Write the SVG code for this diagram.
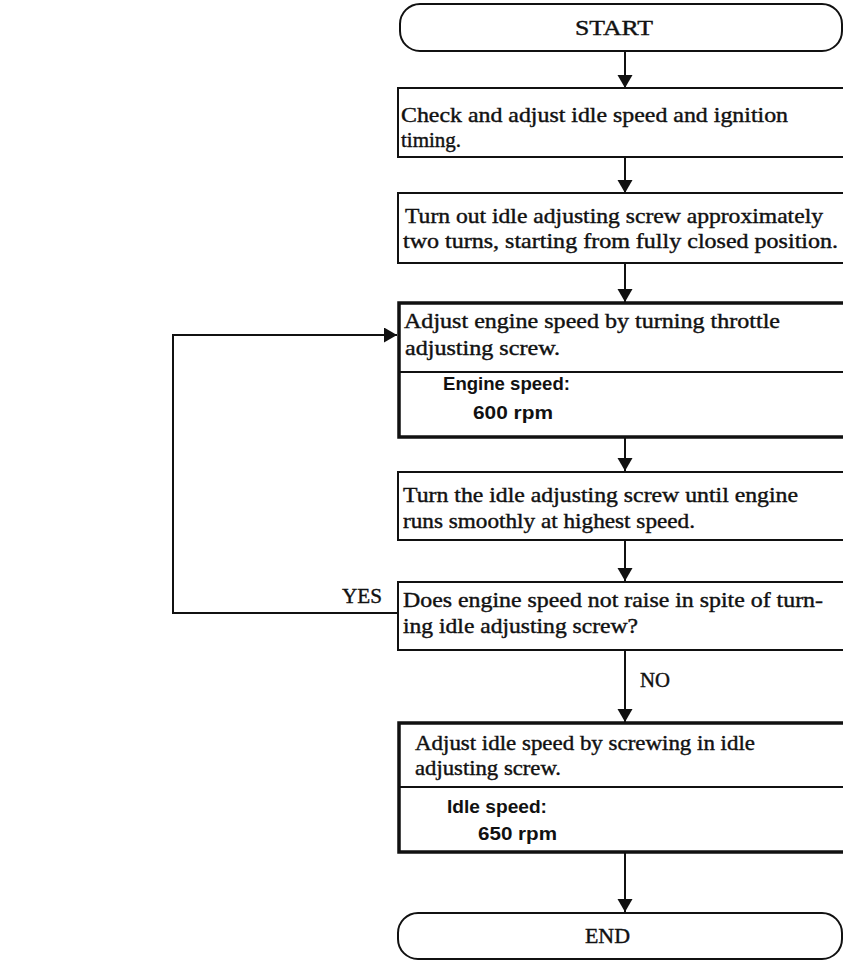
<svg xmlns="http://www.w3.org/2000/svg" width="843" height="961" viewBox="0 0 843 961">
<defs>
<style>
.t{font-family:"Liberation Serif","Times New Roman",serif;font-size:21px;fill:#111;stroke:#111;stroke-width:0.4}
.s{font-family:"Liberation Sans",Arial,sans-serif;font-size:18px;font-weight:bold;fill:#111}
.box{fill:#fff;stroke:#111;stroke-width:2}
.thick{stroke-width:3.5}
.div{stroke:#111;stroke-width:2}
.conn{stroke:#111;stroke-width:2;fill:none}
</style>
<marker id="ah" markerUnits="userSpaceOnUse" markerWidth="14" markerHeight="16" refX="13" refY="7.5" orient="auto">
<path d="M0,0 L13,7.5 L0,15 z" fill="#111"/>
</marker>
</defs>
<rect width="843" height="961" fill="#fff"/>
<g id="connectors">
<line class="conn" x1="625" y1="51" x2="625" y2="88" marker-end="url(#ah)"/>
<line class="conn" x1="625" y1="157" x2="625" y2="193" marker-end="url(#ah)"/>
<line class="conn" x1="625" y1="263" x2="625" y2="302" marker-end="url(#ah)"/>
<line class="conn" x1="625" y1="437" x2="625" y2="471" marker-end="url(#ah)"/>
<line class="conn" x1="625" y1="540" x2="625" y2="581" marker-end="url(#ah)"/>
<line class="conn" x1="625" y1="650" x2="625" y2="722" marker-end="url(#ah)"/>
<line class="conn" x1="625" y1="852" x2="625" y2="912" marker-end="url(#ah)"/>
<polyline class="conn" points="398,613 173,613 173,335 397,335" marker-end="url(#ah)"/>
<text class="t" x="342" y="603" textLength="40" lengthAdjust="spacingAndGlyphs">YES</text>
<text class="t" x="640" y="687" textLength="30" lengthAdjust="spacingAndGlyphs">NO</text>
</g>
<g id="start">
<rect class="box" x="400" y="4" width="442" height="47" rx="20" ry="20"/>
<text class="t" x="575" y="35" textLength="78" lengthAdjust="spacingAndGlyphs">START</text>
</g>
<g id="check">
<rect class="box" x="398" y="88" width="460" height="69"/>
<text class="t" x="401" y="122" textLength="387" lengthAdjust="spacingAndGlyphs">Check and adjust idle speed and ignition</text>
<text class="t" x="401" y="147">timing.</text>
</g>
<g id="turnout">
<rect class="box" x="398" y="193" width="460" height="70"/>
<text class="t" x="405" y="223" textLength="418" lengthAdjust="spacingAndGlyphs">Turn out idle adjusting screw approximately</text>
<text class="t" x="403" y="248" textLength="435" lengthAdjust="spacingAndGlyphs">two turns, starting from fully closed position.</text>
</g>
<g id="adjustengine">
<rect class="box thick" x="399" y="303" width="460" height="134"/>
<line class="div" x1="399" y1="372" x2="843" y2="372"/>
<text class="t" x="404" y="328" textLength="376" lengthAdjust="spacingAndGlyphs">Adjust engine speed by turning throttle</text>
<text class="t" x="405" y="355" textLength="155" lengthAdjust="spacingAndGlyphs">adjusting screw.</text>
<text class="s" x="443" y="390" textLength="127" lengthAdjust="spacingAndGlyphs">Engine speed:</text>
<text class="s" x="473" y="419" textLength="80" lengthAdjust="spacingAndGlyphs">600 rpm</text>
</g>
<g id="turnidle">
<rect class="box" x="398" y="472" width="460" height="68"/>
<text class="t" x="403" y="502" textLength="395" lengthAdjust="spacingAndGlyphs">Turn the idle adjusting screw until engine</text>
<text class="t" x="403" y="528" textLength="292" lengthAdjust="spacingAndGlyphs">runs smoothly at highest speed.</text>
</g>
<g id="decision">
<rect class="box" x="398" y="582" width="460" height="68"/>
<text class="t" x="403" y="607" textLength="420" lengthAdjust="spacingAndGlyphs">Does engine speed not raise in spite of turn-</text>
<text class="t" x="403" y="633" textLength="235" lengthAdjust="spacingAndGlyphs">ing idle adjusting screw?</text>
</g>
<g id="adjustidle">
<rect class="box thick" x="399" y="723" width="460" height="129"/>
<line class="div" x1="399" y1="787" x2="843" y2="787"/>
<text class="t" x="415" y="750" textLength="340" lengthAdjust="spacingAndGlyphs">Adjust idle speed by screwing in idle</text>
<text class="t" x="415" y="775" textLength="146" lengthAdjust="spacingAndGlyphs">adjusting screw.</text>
<text class="s" x="447" y="813" textLength="100" lengthAdjust="spacingAndGlyphs">Idle speed:</text>
<text class="s" x="478" y="840" textLength="79" lengthAdjust="spacingAndGlyphs">650 rpm</text>
</g>
<g id="end">
<rect class="box" x="398" y="913" width="444" height="46" rx="20" ry="20"/>
<text class="t" x="585" y="943" textLength="45" lengthAdjust="spacingAndGlyphs">END</text>
</g>
</svg>
